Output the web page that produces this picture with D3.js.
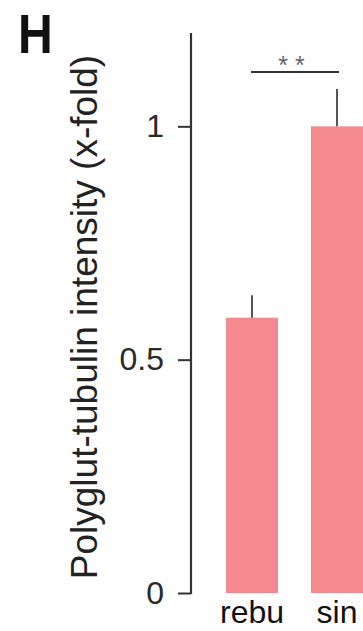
<!DOCTYPE html>
<html>
<head>
<meta charset="utf-8">
<script src="https://cdn.jsdelivr.net/npm/d3@7"></script>
<style>
  html, body { margin: 0; padding: 0; background: #fff; }
  svg { display: block; }
  text { font-family: "Liberation Sans", Arial, Helvetica, sans-serif; }
</style>
</head>
<body>
<svg id="chart" width="363" height="631"></svg>
<script>
// Polyglut-tubulin intensity, normalised to the "sin" condition
const categories = ["rebu", "sin"];
const means = [0.59, 1.0];
const errors = [0.048, 0.08];
const yTicks = [0, 0.5, 1];
const yTickLabels = ["0", "0.5", "1"];
const yMax = 1.2;
const significance = "* *";

const svg = d3.select("#chart");

const y = d3.scaleLinear().domain([0, yMax]).range([593, 33]);
const x = d3.scaleBand()
  .domain(categories)
  .range([226, 363])
  .paddingInner(33 / 85)
  .paddingOuter(0);

const barColor = "#f48a8f";
const inkColor = "#333";

// Panel letter
svg.append("text")
  .attr("x", 18).attr("y", 53)
  .attr("transform", "translate(18,53) scale(0.86,1) translate(-18,-53)")
  .attr("font-size", 56).attr("font-weight", "bold").attr("fill", "#111")
  .text("H");

// Bars
svg.selectAll("rect.bar")
  .data(categories)
  .join("rect")
  .attr("class", "bar")
  .attr("x", d => x(d))
  .attr("width", x.bandwidth())
  .attr("y", (d, i) => y(means[i]))
  .attr("height", (d, i) => y(0) - y(means[i]))
  .attr("fill", barColor);

// Error bars (upper whisker only)
svg.selectAll("line.err")
  .data(categories)
  .join("line")
  .attr("class", "err")
  .attr("x1", d => x(d) + x.bandwidth() / 2)
  .attr("x2", d => x(d) + x.bandwidth() / 2)
  .attr("y1", (d, i) => y(means[i]))
  .attr("y2", (d, i) => y(means[i] + errors[i]))
  .attr("stroke", "#555")
  .attr("stroke-width", 2);

// Y axis
const yAxis = d3.axisLeft(y)
  .tickValues(yTicks)
  .tickFormat((d, i) => yTickLabels[i])
  .tickSize(13)
  .tickSizeOuter(0)
  .tickPadding(14);

const gy = svg.append("g")
  .attr("transform", "translate(191,0)")
  .call(yAxis);
gy.select(".domain").remove();
gy.append("line")
  .attr("x1", 0).attr("x2", 0)
  .attr("y1", y(yMax)).attr("y2", y(0) + 1)
  .attr("stroke", inkColor).attr("stroke-width", 2.2);
gy.selectAll(".tick line").attr("stroke", inkColor).attr("stroke-width", 2);
gy.selectAll(".tick text")
  .attr("font-size", 32)
  .attr("fill", "#2a2a2a")
  .attr("font-family", "Liberation Sans, Arial, sans-serif");

// Y axis title
svg.append("text")
  .attr("transform", "translate(97,317) rotate(-90)")
  .attr("text-anchor", "middle")
  .attr("font-size", 37)
  .attr("fill", "#222")
  .text("Polyglut-tubulin intensity (x-fold)");

// Category labels
svg.selectAll("text.cat")
  .data(categories)
  .join("text")
  .attr("class", "cat")
  .attr("x", d => x(d) + x.bandwidth() / 2)
  .attr("y", 623)
  .attr("text-anchor", "middle")
  .attr("font-size", 32)
  .attr("fill", "#111")
  .text(d => d);

// Significance bracket
const cx0 = x(categories[0]) + x.bandwidth() / 2;
const cx1 = x(categories[1]) + x.bandwidth() / 2;
svg.append("line")
  .attr("x1", cx0 - 1).attr("x2", cx1 + 2)
  .attr("y1", 72).attr("y2", 72)
  .attr("stroke", inkColor).attr("stroke-width", 2);
svg.append("text")
  .attr("x", (cx0 + cx1) / 2 - 3)
  .attr("y", 74)
  .attr("text-anchor", "middle")
  .attr("font-size", 25)
  .attr("fill", "#666")
  .text(significance);
</script>
</body>
</html>
